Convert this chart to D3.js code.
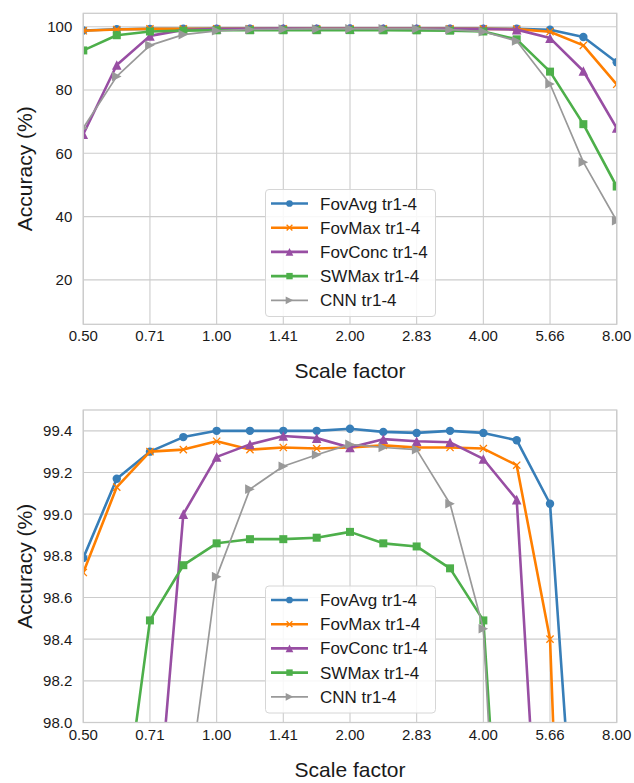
<!DOCTYPE html>
<html>
<head>
<meta charset="utf-8">
<title>Accuracy vs scale factor</title>
<script src="https://cdn.jsdelivr.net/npm/d3@7"></script>
<style>
    body {
        margin: 0;
        background-color: #ffffff;
    }

    svg text {
        font-family: "Liberation Sans", Arial, Helvetica, sans-serif;
        fill: #1a1a1a;
    }
</style>
</head>

<body>
<svg id="svg" width="634" height="783"></svg>

<script>
    // scale factors (x values), every 2^(1/4)
    const scaleFactors = [0.5, 0.595, 0.707, 0.841, 1.0, 1.189, 1.414, 1.682, 2.0,
        2.378, 2.828, 3.364, 4.0, 4.757, 5.657, 6.727, 8.0]
    const xTickValues = [0.5, 0.707, 1.0, 1.414, 2.0, 2.828, 4.0, 5.657, 8.0]
    const xTickLabels = ['0.50', '0.71', '1.00', '1.41', '2.00', '2.83', '4.00', '5.66', '8.00']

    const seriesNames = ['FovAvg tr1-4', 'FovMax tr1-4', 'FovConc tr1-4', 'SWMax tr1-4', 'CNN tr1-4']

    // accuracy (%) per scale factor
    const fovAvg = [98.79, 99.17, 99.30, 99.37, 99.40, 99.40, 99.40, 99.40, 99.41,
        99.395, 99.39, 99.40, 99.39, 99.355, 99.05, 96.75, 88.75]
    const fovMax = [98.72, 99.13, 99.30, 99.31, 99.35, 99.31, 99.32, 99.315, 99.32,
        99.33, 99.32, 99.32, 99.315, 99.235, 98.40, 94.1, 81.8]
    const fovConc = [66.0, 87.9, 97.1, 99.00, 99.275, 99.335, 99.375, 99.365, 99.32,
        99.36, 99.35, 99.345, 99.265, 99.07, 96.4, 86.0, 68.0]
    const swMax = [92.5, 97.3, 98.49, 98.755, 98.86, 98.88, 98.88, 98.887, 98.915,
        98.86, 98.845, 98.74, 98.49, 96.0, 85.8, 69.2, 49.5]
    const cnn = [68.0, 84.3, 94.1, 97.5, 98.70, 99.12, 99.23, 99.285, 99.335,
        99.32, 99.31, 99.05, 98.45, 95.5, 81.9, 57.2, 38.7]

    const topYTicks = [20, 40, 60, 80, 100]
    const bottomYTicks = [98.0, 98.2, 98.4, 98.6, 98.8, 99.0, 99.2, 99.4]

    const allSeries = [fovAvg, fovMax, fovConc, swMax, cnn]
    const colors = ['#377eb8', '#ff7f00', '#984ea3', '#4daf4a', '#999999']
    const markers = ['circle', 'x', 'triangle', 'square', 'triright']
    const widths = [2.6, 2.6, 2.6, 2.6, 1.7]

    const svg = d3.select('#svg')
    const left = 83.3
    const right = 616.7

    const x = d3.scaleLog().base(2)
        .domain([0.5, 8])
        .range([left, right])

    const panels = [
        { id: 'top', top: 13.3, bottom: 324.3, domain: [5.97, 104.23], ticks: topYTicks, fmt: d3.format('d'), legendTop: 189.5 },
        { id: 'bottom', top: 410, bottom: 722.5, domain: [98.0, 99.5], ticks: bottomYTicks, fmt: d3.format('.1f'), legendTop: 586 }
    ]

    function drawMarker(g, type, cx, cy, color, k) {
        if (type === 'circle') {
            g.append('circle').attr('cx', cx).attr('cy', cy).attr('r', 4.2 * k).attr('fill', color)
        } else if (type === 'square') {
            let s = 4 * k
            g.append('rect').attr('x', cx - s).attr('y', cy - s).attr('width', 2 * s).attr('height', 2 * s).attr('fill', color)
        } else if (type === 'triangle') {
            let s = 4.8 * k
            g.append('path').attr('d', `M${cx},${cy - s}L${cx + s},${cy + s}L${cx - s},${cy + s}Z`).attr('fill', color)
        } else if (type === 'triright') {
            let s = 4.8 * k
            g.append('path').attr('d', `M${cx + s},${cy}L${cx - s},${cy - s}L${cx - s},${cy + s}Z`).attr('fill', color)
        } else if (type === 'x') {
            let s = 3.6 * k
            g.append('path').attr('d', `M${cx - s},${cy - s}L${cx + s},${cy + s}M${cx - s},${cy + s}L${cx + s},${cy - s}`)
                .attr('stroke', color).attr('stroke-width', 1.3).attr('fill', 'none')
        }
    }

    panels.forEach((p) => {
        let y = d3.scaleLinear().domain(p.domain).range([p.bottom, p.top])
        let g = svg.append('g').attr('id', p.id)

        svg.append('defs').append('clipPath').attr('id', 'clip-' + p.id)
            .append('rect').attr('x', left).attr('y', p.top).attr('width', right - left).attr('height', p.bottom - p.top)

        // grid
        g.append('g').selectAll('line').data(xTickValues).enter().append('line')
            .attr('x1', d => x(d)).attr('x2', d => x(d))
            .attr('y1', p.top).attr('y2', p.bottom)
            .attr('stroke', '#cccccc').attr('stroke-width', 1.1)
        g.append('g').selectAll('line').data(p.ticks).enter().append('line')
            .attr('x1', left).attr('x2', right)
            .attr('y1', d => y(d)).attr('y2', d => y(d))
            .attr('stroke', '#cccccc').attr('stroke-width', 1.1)

        // tick labels
        g.append('g').selectAll('text').data(xTickValues).enter().append('text')
            .attr('x', d => x(d)).attr('y', p.bottom + 17)
            .attr('text-anchor', 'middle').style('font-size', '15px')
            .text((d, i) => xTickLabels[i])
        g.append('g').selectAll('text').data(p.ticks).enter().append('text')
            .attr('x', left - 11).attr('y', d => y(d) + 5.5)
            .attr('text-anchor', 'end').style('font-size', '15px')
            .text(d => p.fmt(d))

        // axis titles
        g.append('text')
            .attr('x', (left + right) / 2).attr('y', p.bottom + 54)
            .attr('text-anchor', 'middle').style('font-size', '21px')
            .text('Scale factor')
        g.append('text')
            .attr('transform', `translate(32,${(p.top + p.bottom) / 2}) rotate(-90)`)
            .attr('text-anchor', 'middle').style('font-size', '21px')
            .text('Accuracy (%)')

        // series
        let plot = g.append('g').attr('clip-path', `url(#clip-${p.id})`)
        let line = d3.line().x((d, i) => x(scaleFactors[i])).y(d => y(d))
        allSeries.forEach((values, s) => {
            plot.append('path').datum(values)
                .attr('d', line)
                .attr('fill', 'none')
                .attr('stroke', colors[s])
                .attr('stroke-width', widths[s])
                .attr('stroke-linejoin', 'round')
            values.forEach((v, i) => drawMarker(plot, markers[s], x(scaleFactors[i]), y(v), colors[s], 1))
        })

        // frame
        g.append('rect')
            .attr('x', left).attr('y', p.top)
            .attr('width', right - left).attr('height', p.bottom - p.top)
            .attr('fill', 'none').attr('stroke', '#cccccc').attr('stroke-width', 1.3)

        // legend
        let lg = g.append('g').attr('class', 'legend')
        lg.append('rect')
            .attr('x', 265.5).attr('y', p.legendTop)
            .attr('width', 170).attr('height', 127)
            .attr('rx', 3.5)
            .attr('fill', 'rgba(255,255,255,0.85)')
            .attr('stroke', '#d6d6d6').attr('stroke-width', 1)
        seriesNames.forEach((name, s) => {
            let ly = p.legendTop + 14 + s * 24.2
            lg.append('line')
                .attr('x1', 271).attr('x2', 308).attr('y1', ly).attr('y2', ly)
                .attr('stroke', colors[s]).attr('stroke-width', widths[s])
            drawMarker(lg, markers[s], 289.5, ly, colors[s], 0.8)
            lg.append('text')
                .attr('x', 320).attr('y', ly + 6)
                .style('font-size', '17px')
                .text(name)
        })
    })
</script>
</body>
</html>
